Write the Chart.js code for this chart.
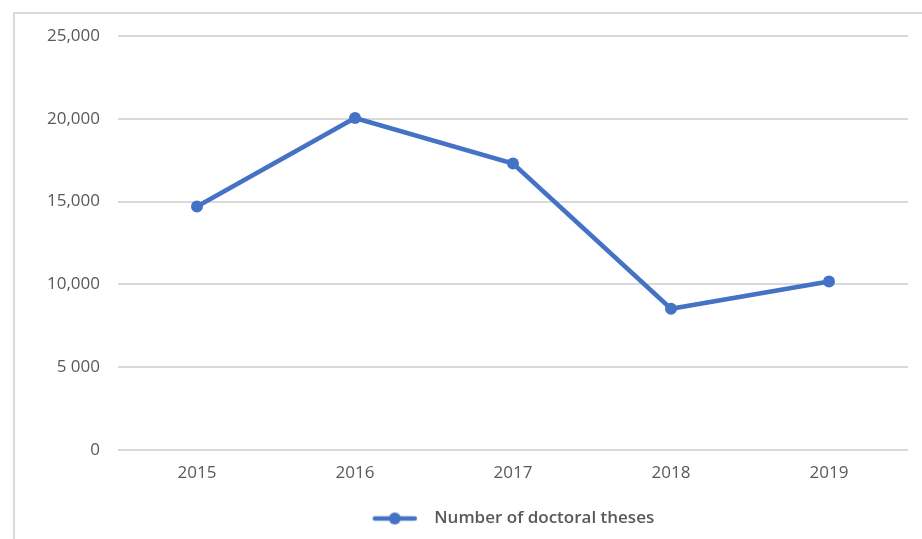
<!DOCTYPE html>
<html lang="en">
<head>
    <meta charset="UTF-8">
    <title>Number of doctoral theses</title>
    <script src="https://cdn.jsdelivr.net/npm/chart.js"></script>
    <style>
        html, body {
            margin: 0;
            padding: 0;
            background: #ffffff;
            overflow: hidden;
        }

        .frame {
            position: absolute;
            left: 13px;
            top: 12px;
            width: 940px;
            height: 560px;
            border-top: 2px solid #d9d9d9;
            border-left: 2px solid #d9d9d9;
        }

        .wrap {
            position: absolute;
            left: 0;
            top: 0;
            width: 922px;
            height: 539px;
        }
    </style>
</head>
<body>
    <div class="frame"></div>
    <div class="wrap">
        <canvas id="thesesChart" width="922" height="539"></canvas>
    </div>

    <script>
        const years = ['2015', '2016', '2017', '2018', '2019'];
        const theses = [14700, 20050, 17300, 8530, 10170];
        const yTicks = [0, 5000, 10000, 15000, 20000, 25000];
        const yTickLabels = ['0', '5 000', '10,000', '15,000', '20,000', '25,000'];

        const blue = '#4472c4';
        const grey = '#595959';

        // Legend marker: short line with a dot in the middle, some blank space after it
        const legendMark = document.createElement('canvas');
        legendMark.width = 54;
        legendMark.height = 14;
        (function () {
            const c = legendMark.getContext('2d');
            c.strokeStyle = blue;
            c.lineWidth = 4.5;
            c.lineCap = 'round';
            c.beginPath();
            c.moveTo(3, 7);
            c.lineTo(43, 7);
            c.stroke();
            c.fillStyle = blue;
            c.beginPath();
            c.arc(23, 7, 6, 0, Math.PI * 2);
            c.fill();
        })();

        const ctx = document.getElementById('thesesChart').getContext('2d');

        new Chart(ctx, {
            type: 'line',
            data: {
                labels: years,
                datasets: [{
                    label: 'Number of doctoral theses',
                    data: theses,
                    borderColor: blue,
                    backgroundColor: blue,
                    borderWidth: 4.5,
                    pointRadius: 6,
                    pointHoverRadius: 6,
                    pointBackgroundColor: blue,
                    pointBorderWidth: 0,
                    tension: 0
                }]
            },
            options: {
                responsive: false,
                animation: false,
                layout: {
                    padding: { left: 0, right: 14, top: 36, bottom: 2 }
                },
                plugins: {
                    tooltip: { enabled: false },
                    legend: {
                        position: 'bottom',
                        fullSize: false,
                        labels: {
                            color: grey,
                            font: { family: 'Open Sans', size: 17, weight: '600' },
                            usePointStyle: true,
                            pointStyleWidth: 54,
                            boxHeight: 14,
                            padding: 10,
                            generateLabels: (chart) => chart.data.datasets.map((ds, i) => ({
                                text: ds.label,
                                fontColor: grey,
                                pointStyle: legendMark,
                                datasetIndex: i,
                                lineWidth: 0,
                                hidden: false
                            }))
                        }
                    }
                },
                scales: {
                    x: {
                        offset: true,
                        grid: { display: false, drawTicks: false },
                        border: { display: false },
                        ticks: {
                            color: grey,
                            font: { family: 'Open Sans', size: 17 },
                            padding: 13
                        },
                        afterFit: (axis) => { axis.height = 50; }
                    },
                    y: {
                        min: 0,
                        max: 25000,
                        afterBuildTicks: (axis) => {
                            axis.ticks = yTicks.map(v => ({ value: v }));
                        },
                        grid: {
                            color: '#d9d9d9',
                            lineWidth: 2,
                            drawTicks: false
                        },
                        border: { display: false },
                        ticks: {
                            color: grey,
                            font: { family: 'Open Sans', size: 17 },
                            padding: 18,
                            callback: (value) => yTickLabels[yTicks.indexOf(value)]
                        },
                        afterFit: (axis) => { axis.width = 118; }
                    }
                }
            }
        });
    </script>
</body>
</html>
